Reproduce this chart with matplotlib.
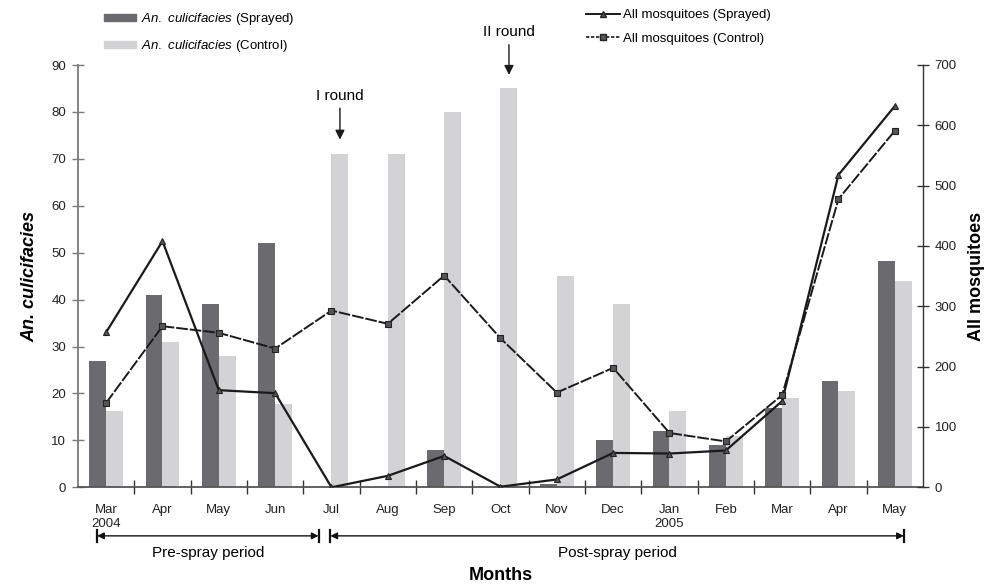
import numpy as np
import matplotlib
matplotlib.use("Agg")
import matplotlib.pyplot as plt
from matplotlib.patches import Patch
from matplotlib.lines import Line2D
from matplotlib.ticker import MultipleLocator

plt.rcParams['font.family'] = ['Liberation Sans', 'DejaVu Sans']
plt.rcParams['mathtext.fontset'] = 'custom'
plt.rcParams['mathtext.it'] = 'Liberation Sans:italic'
plt.rcParams['mathtext.rm'] = 'Liberation Sans'

# months on the x axis
months = ['Mar\n2004', 'Apr', 'May', 'Jun', 'Jul', 'Aug', 'Sep', 'Oct', 'Nov',
          'Dec', 'Jan\n2005', 'Feb', 'Mar', 'Apr', 'May']

# An. culicifacies (left axis, bars)
culi_sprayed = [27, 41, 39, 52, 0, 0, 8, 0, 0.7, 10, 12, 9, 17, 22.6, 48.2]
culi_control = [16.2, 31, 28, 17.7, 71, 71, 80, 85, 45, 39, 16.2, 11, 19, 20.5, 44]

# all mosquitoes (right axis, lines)
all_sprayed = [257, 408, 161, 156, 0, 19, 52, 1, 13, 57, 56, 61, 143, 518, 632]
all_control = [140, 267, 256, 230, 293, 271, 351, 247, 157, 198, 90, 76, 153, 478, 591]

dark = '#6b6b6f'
light = '#d3d3d5'
axcol = '#7a7a7a'

fig = plt.figure(figsize=(9.87, 5.85), dpi=100)
ax = fig.add_axes([78 / 987, 1 - 487.3 / 585, (923 - 78) / 987, (487.3 - 65) / 585])
ax2 = ax.twinx()

x = np.arange(len(months))
w = 0.3
ax.bar(x - w / 2, culi_sprayed, w, color=dark, zorder=2)
ax.bar(x + w / 2, culi_control, w, color=light, zorder=2)

ax2.plot(x, all_sprayed, color='#1a1a1a', lw=1.6, marker='^', ms=5,
         mfc='#555555', mec='#222222', mew=0.8)
ax2.plot(x, all_control, color='#1a1a1a', lw=1.4, ls=(0, (6, 1)), marker='s', ms=4.5,
         mfc='#555555', mec='#222222', mew=0.8)

ax.set_xlim(-0.5, len(months) - 0.5)
ax.set_ylim(0, 90)
ax2.set_ylim(0, 700)
ax.yaxis.set_major_locator(MultipleLocator(10))
ax2.yaxis.set_major_locator(MultipleLocator(100))

ax.set_xticks(x)
ax.set_xticklabels(months, fontsize=9.5, color='#222222')
ax.set_xticks(np.arange(0.5, len(months) - 1, 1), minor=True)
ax.tick_params(axis='x', which='major', length=0, pad=12)
ax.tick_params(axis='x', which='minor', direction='inout', length=10, color='#333333', width=1)

for a in (ax, ax2):
    for s in a.spines.values():
        s.set_visible(False)
ax.spines['left'].set_visible(True)
ax.spines['left'].set_color(axcol)
ax.spines['left'].set_linewidth(1.3)
ax.spines['bottom'].set_visible(True)
ax.spines['bottom'].set_color('#555555')
ax.spines['bottom'].set_linewidth(1.3)
ax2.spines['right'].set_visible(True)
ax2.spines['right'].set_color('#333333')
ax2.spines['right'].set_linewidth(1.0)
ax.tick_params(axis='y', direction='inout', length=9, color=axcol, width=1, labelsize=9.5,
               labelcolor='#222222', pad=4)
ax2.tick_params(axis='y', direction='inout', length=9, color='#333333', width=1, labelsize=9.5,
                labelcolor='#222222', pad=4)

ax.set_ylabel('An. culicifacies', fontsize=13, fontweight='bold', style='italic', labelpad=9)
ax2.set_ylabel('All mosquitoes', fontsize=13, fontweight='bold', labelpad=8)

# spray round arrows
ax.annotate('I round', xy=(4 + w / 2, 73.5), xytext=(4 + w / 2, 82), ha='center', va='bottom',
            fontsize=11, arrowprops=dict(arrowstyle='-|>', color='#1a1a1a', lw=1, mutation_scale=14))
ax.annotate('II round', xy=(7 + w / 2, 87.3), xytext=(7 + w / 2, 95.5), ha='center', va='bottom',
            fontsize=11, annotation_clip=False,
            arrowprops=dict(arrowstyle='-|>', color='#1a1a1a', lw=1, mutation_scale=14))

# period arrows under the axis
tr = ax.get_xaxis_transform()
yarr = -0.115
for x0, x1, lab in [(-0.16, 3.77, 'Pre-spray period'), (3.98, 14.16, 'Post-spray period')]:
    ax.annotate('', xy=(x0, yarr), xytext=(x1, yarr), xycoords=tr, textcoords=tr,
                arrowprops=dict(arrowstyle='<|-|>', color='#111111', lw=1, mutation_scale=10,
                                shrinkA=0, shrinkB=0))
    ax.plot([x0, x0], [yarr - 0.015, yarr + 0.015], transform=tr, color='#111111', lw=1.6,
            clip_on=False)
    ax.plot([x1, x1], [yarr - 0.015, yarr + 0.015], transform=tr, color='#111111', lw=1.6,
            clip_on=False)
    ax.text((x0 + x1) / 2, -0.155, lab, transform=tr, ha='center', va='center', fontsize=11)

ax.text(0.5, -0.208, 'Months', transform=ax.transAxes, ha='center', va='center',
        fontsize=13, fontweight='bold')

# legends
bar_handles = [Patch(color=dark), Patch(color=light)]
bar_labels = [r'$\it{An.\ culicifacies}$ (Sprayed)', r'$\it{An.\ culicifacies}$ (Control)']
fig.legend(bar_handles, bar_labels, loc='upper left', bbox_to_anchor=(104 / 987, 1 - 11 / 585),
           frameon=False, fontsize=9.5, handlelength=2.4, handleheight=0.5, handletextpad=0.4,
           labelspacing=0.85, borderpad=0, borderaxespad=0)

line_handles = [Line2D([], [], color='#1a1a1a', lw=1.4, marker='^', ms=5, mfc='#555555', mec='#222222'),
                Line2D([], [], color='#1a1a1a', lw=1.2, ls=(0, (2, 1)), marker='s', ms=4.5,
                       mfc='#555555', mec='#222222')]
fig.legend(line_handles, ['All mosquitoes (Sprayed)', 'All mosquitoes (Control)'], loc='upper left',
           bbox_to_anchor=(586 / 987, 1 - 9 / 585), frameon=False, fontsize=9.5, handlelength=2.6,
           handletextpad=0.2, labelspacing=0.85, borderpad=0, borderaxespad=0)

fig.savefig('out.png', dpi=100)
